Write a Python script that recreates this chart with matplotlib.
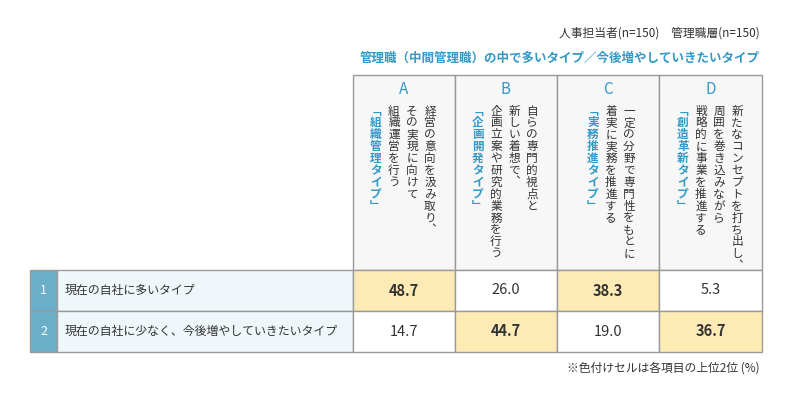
import matplotlib.pyplot as plt
from matplotlib.patches import Rectangle

plt.rcParams["font.family"] = "Noto Sans CJK JP"

# データ
letters = ["A", "B", "C", "D"]
descriptions = [
    ["経営の意向を汲み取り︑", "その実現に向けて", "組織運営を行う"],
    ["自らの専門的視点と", "新しい着想で︑", "企画立案や研究的業務を行う"],
    ["一定の分野で専門性をもとに", "着実に実務を推進する"],
    ["新たなコンセプトを打ち出し︑", "周囲を巻き込みながら", "戦略的に事業を推進する"],
]
type_names = ["﹁組織管理タイプ﹂", "﹁企画開発タイプ﹂", "﹁実務推進タイプ﹂", "﹁創造革新タイプ﹂"]
row_labels = ["現在の自社に多いタイプ", "現在の自社に少なく、今後増やしていきたいタイプ"]
values = [[48.7, 26.0, 38.3, 5.3],
          [14.7, 44.7, 19.0, 36.7]]
top2 = [[True, False, True, False],
        [False, True, False, True]]

BLUE = "#3399c6"
BORDER = "#9a9a9a"

fig = plt.figure(figsize=(7.9, 4.04), dpi=100)
ax = fig.add_axes([0, 0, 1, 1])
ax.set_xlim(0, 790)
ax.set_ylim(404, 0)
ax.axis("off")

ax.text(760, 33, "人事担当者(n=150)　管理職層(n=150)", ha="right", va="center", fontsize=8.5, color="#333")
ax.text(760, 58, "管理職（中間管理職）の中で多いタイプ／今後増やしていきたいタイプ",
        ha="right", va="center", fontsize=9, color=BLUE, fontweight="bold")

col_x = [353, 455, 557, 659, 762]
head_top, head_bot = 75, 270
row_y = [270, 311, 352]
line_step = 18
char_step = 11.9

#ヘッダー
for j in range(4):
    x0, x1 = col_x[j], col_x[j + 1]
    ax.add_patch(Rectangle((x0, head_top), x1 - x0, head_bot - head_top,
                           facecolor="#f7f7f7", edgecolor=BORDER, lw=1))
    cx = (x0 + x1) / 2
    ax.text(cx, 89, letters[j], ha="center", va="center", fontsize=11, color=BLUE)
    lines = descriptions[j] + [type_names[j]]
    n = len(lines)
    xr = x1 - 25 if n == 4 else x1 - 30
    for k, line in enumerate(lines):
        lx = xr - k * line_step
        is_name = k == n - 1
        for c, ch in enumerate(line):
            ax.text(lx, 111 + c * char_step, ch, ha="center", va="center",
                    fontsize=8.4, color=BLUE if is_name else "#333",
                    fontweight="bold" if is_name else "normal")

#行
for i in range(2):
    y0, y1 = row_y[i], row_y[i + 1]
    h = y1 - y0
    ax.add_patch(Rectangle((30, y0), 27, h, facecolor="#6aaec8", edgecolor=BORDER, lw=1))
    ax.text(43.5, (y0 + y1) / 2, str(i + 1), ha="center", va="center", fontsize=9, color="white")
    ax.add_patch(Rectangle((57, y0), 296, h, facecolor="#eff7fa", edgecolor=BORDER, lw=1))
    ax.text(65, (y0 + y1) / 2, row_labels[i], ha="left", va="center", fontsize=8.6, color="#333")
    for j in range(4):
        x0, x1 = col_x[j], col_x[j + 1]
        ax.add_patch(Rectangle((x0, y0), x1 - x0, h,
                               facecolor="#feeab5" if top2[i][j] else "white",
                               edgecolor=BORDER, lw=1))
        ax.text((x0 + x1) / 2, (y0 + y1) / 2, f"{values[i][j]:.1f}", ha="center", va="center",
                fontsize=10.5, color="#333", fontweight="bold" if top2[i][j] else "normal")

ax.text(760, 368, "※色付けセルは各項目の上位2位 (%)", ha="right", va="center", fontsize=8.5, color="#333")

fig.savefig("out.png", dpi=100)
